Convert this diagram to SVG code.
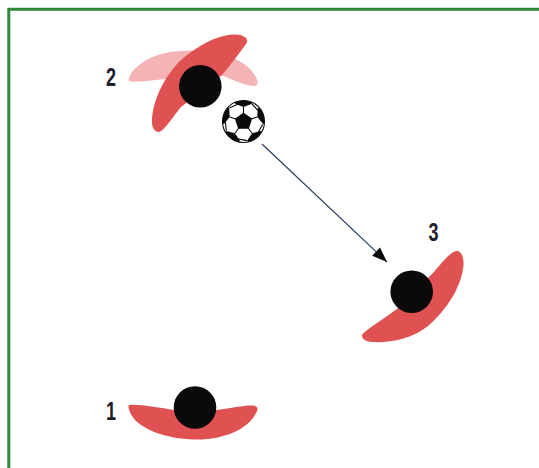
<svg xmlns="http://www.w3.org/2000/svg" width="539" height="468" viewBox="0 0 539 468">
  <style>
    .frame { fill: none; stroke: #2f8a3a; stroke-width: 3; }
    .arm { fill: #e05252; }
    .arm-faded { fill: #f4b3b5; }
    .head { fill: #0a090c; }
    .num { font-family: "Liberation Sans", sans-serif; font-weight: 700; font-size: 25px; fill: #1d2029; text-anchor: middle; }
    .seam { stroke: #0a090c; stroke-width: 1.1; fill: none; }
    .shot { stroke: #1f3a5a; stroke-width: 1.1; fill: none; }
  </style>
  <defs>
    <marker id="arrowhead" markerUnits="userSpaceOnUse" markerWidth="18" markerHeight="18" refX="16" refY="9" orient="auto">
      <path d="M1 3.300 L16 9 L1 14.700 Z" fill="#0a090c"/>
    </marker>
    <clipPath id="ballClip"><circle cx="0" cy="0" r="21"/></clipPath>
    <!-- one outer patch of the ball with its seams, repeated five times -->
    <g id="panel">
      <line class="seam" x1="0" y1="-8" x2="0" y2="-14.500"/>
      <path class="seam" d="M8.500 -17.500 L15.500 -10 L18.500 -11"/>
      <path d="M0 -14.500 L8.500 -17.800 L8 -24 L-8 -24 L-8.500 -17.800 Z" fill="#0a090c"/>
    </g>
  </defs>

  <path class="frame" d="M8.800 468 V9.300 H539"/>

  <g id="connectors">
    <line class="shot" x1="262" y1="144" x2="387" y2="262" marker-end="url(#arrowhead)"/>
  </g>

  <g id="player-1">
    <path class="arm" d="M130 405 C140 404 160 408 174 410 L217 410 C232 408 245 405 253 405.500 C258 406 258 409 257 411 C250 428 225 440 195 439.500 C165 439 135 428 129.500 411 C128 407 128 405 130 405 Z"/>
    <circle class="head" cx="195" cy="407.500" r="21.300"/>
    <text class="num" transform="translate(111 420) scale(0.72 1)">1</text>
  </g>

  <g id="player-2">
    <path class="arm-faded" d="M129 78 C135 62 160 51 182 51 C222 49 251 61 257.500 81 C258.500 85 256 86 253 86 C243 85 232 79 220 75 L165 79 C150 81 135 82 131 81.500 C128.500 81 128.500 80 129 78 Z"/>
    <path class="arm" d="M246 38 C243 35 238 34 232 34.500 C215 36 197 46 180 61 C163 78 152 103 152 122 C152 128 155 132 159 132 C164 131 172 118 181 107 L222 75 C230 66 240 52 246 44 C247.500 42 247.500 40 246 38 Z"/>
    <circle class="head" cx="200.300" cy="86.300" r="21.300"/>
    <text class="num" transform="translate(111 85.500) scale(0.72 1)">2</text>
  </g>

  <g id="ball" transform="translate(243.500 121.500)">
    <circle r="21" fill="#fff"/>
    <g clip-path="url(#ballClip)">
      <use href="#panel"/>
      <use href="#panel" transform="rotate(72)"/>
      <use href="#panel" transform="rotate(144)"/>
      <use href="#panel" transform="rotate(216)"/>
      <use href="#panel" transform="rotate(288)"/>
    </g>
    <path d="M0 -9 L8.600 -2.800 L5.300 7.300 L-5.300 7.300 L-8.600 -2.800 Z" fill="#0a090c"/>
    <circle r="21" fill="none" stroke="#0a090c" stroke-width="1.100"/>
  </g>

  <g id="player-3">
    <path class="arm" d="M456 251 C461 250 464 257 463.500 265 C462 285 448 309 428 326 C412 339 390 343 372 342 C364 341.500 360 337 363 333.500 C370 327 385 318 397 309 L433 273 C441 264 449 253 456 251 Z"/>
    <circle class="head" cx="411.700" cy="291.700" r="21.300"/>
    <text class="num" transform="translate(433.500 241) scale(0.72 1)">3</text>
  </g>
</svg>
